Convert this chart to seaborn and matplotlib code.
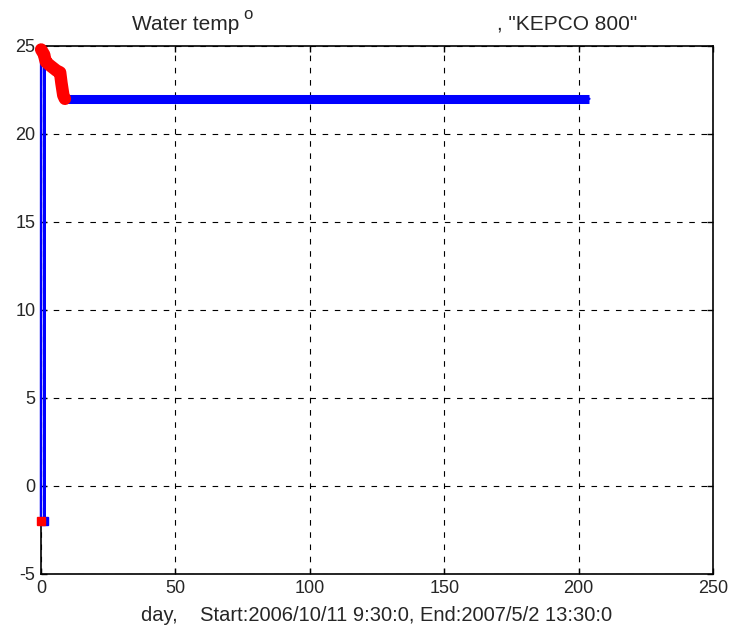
import matplotlib
matplotlib.use("Agg")
import matplotlib.pyplot as plt
import seaborn as sns
import pandas as pd

# ---- data ----
day = [0.0, 0.05, 1.2, 1.25, 1.3, 1.8, 3.3, 5.8, 7.1, 7.6, 8.3, 8.9, 204.0]
temp = [-2.0, 24.8, 24.5, -2.0, 24.4, 24.1, 23.9, 23.6, 23.5, 22.9, 22.2, 22.0, 22.0]
# flagged (red) samples: first point and the initial cool-down
red_day = [0.0, 0.05, 1.2, 1.3, 1.8, 3.3, 5.8, 7.1, 7.6, 8.3, 8.9]
red_temp = [-2.0, 24.8, 24.5, 24.4, 24.1, 23.9, 23.6, 23.5, 22.9, 22.2, 22.0]
flat_start = 8.9

xticks = [0, 50, 100, 150, 200, 250]
yticks = [-5, 0, 5, 10, 15, 20, 25]

sns.set_style("white")
plt.rcParams['font.family'] = ['Liberation Sans', 'DejaVu Sans']

df = pd.DataFrame({"day": day, "temp": temp})
flat = df[df["day"] >= flat_start]
red = pd.DataFrame({"day": red_day, "temp": red_temp})

fig = plt.figure(figsize=(7.36, 6.31), dpi=100)
ax = fig.add_axes([41/736, 1-574/631, (713-41)/736, (574-46)/631])

sns.lineplot(data=df, x="day", y="temp", ax=ax, color="#0000ff", lw=1.8,
             estimator=None, sort=False, zorder=4, clip_on=False)
sns.lineplot(data=flat, x="day", y="temp", ax=ax, color="#0000ff", lw=6.5,
             estimator=None, sort=False, zorder=4, solid_capstyle="butt")
# blue marker at the dip
dip = df[(df["temp"] < 0) & (df["day"] > 0.5)]
ax.plot(dip["day"], dip["temp"], marker="s", ms=6, color="#0000ff", ls="none",
        zorder=5, clip_on=False)
# red flagged samples: initial cool-down as dense stroke
cool = red[red["temp"] > 0]
ax.plot(cool["day"], cool["temp"], color="#ff0000", lw=9, solid_capstyle="round",
        solid_joinstyle="round", zorder=6, clip_on=False)
first = red[red["temp"] < 0]
ax.plot(first["day"], first["temp"], marker="s", ms=6, color="#ff0000", ls="none",
        zorder=6, clip_on=False)

ax.set_xlim(0, 250)
ax.set_ylim(-5, 25)
ax.set_xticks(xticks)
ax.set_yticks(yticks)
ax.set_xticklabels([str(t) for t in xticks], fontsize=13)
ax.set_yticklabels([str(t) for t in yticks], fontsize=13)
ax.tick_params(direction="in", length=4, width=1, color="black",
               top=True, right=True, bottom=True, left=True, pad=4)
ax.grid(True, color="black", linestyle=(0, (5, 6)), linewidth=0.8)
for s in ax.spines.values():
    s.set_color("black")
    s.set_linewidth(1.2)
    s.set_zorder(3)

ax.set_xlabel("day,    Start:2006/10/11 9:30:0, End:2007/5/2 13:30:0", fontsize=14.5, labelpad=7)
ax.set_ylabel("")

fig.text(132/736, 1-30/631, "Water temp", fontsize=15, ha="left", va="baseline")
fig.text(243/736, 1-19/631, "o", fontsize=12, ha="left", va="baseline")
fig.text(497/736, 1-30/631, ', "KEPCO 800"', fontsize=15, ha="left", va="baseline")

fig.savefig("out.png", dpi=100, facecolor="white")
